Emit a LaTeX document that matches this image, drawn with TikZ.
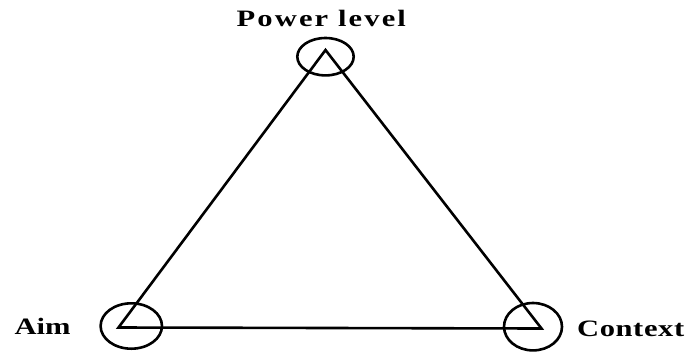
\documentclass[tikz,border=0pt]{standalone}
\usepackage{fontspec}
\setmainfont{Liberation Serif}
\newfontfamily\labfont{Liberation Serif Bold}
\usetikzlibrary{shapes.geometric}
\begin{document}
\begin{tikzpicture}[x=1pt,y=-1pt,
  edge/.style={line width=2.6pt,line join=miter},
  ring/.style={draw,line width=2.6pt,ellipse,inner sep=0pt},
  lab/.style={anchor=base,inner sep=0pt,xscale=1.3,font=\labfont\fontsize{23.5}{26}\selectfont}]
\useasboundingbox (0,0) rectangle (687,351);
\coordinate (P) at (325.5,50);
\coordinate (A) at (118.5,327.5);
\coordinate (C) at (541.5,328.5);
\draw[edge] (P) -- (A) -- (C) -- cycle;
\node[ring,minimum width=56.4pt,minimum height=37.4pt] (rp) at (325.5,56.7) {};
\node[ring,minimum width=61.4pt,minimum height=45.4pt] (ra) at (131.3,326) {};
\node[ring,minimum width=58pt,minimum height=47.4pt] (rc) at (533,326.7) {};
\node[lab] (tp) at (321.3,26.3) {\addfontfeatures{LetterSpace=7}Power level};
\node[lab] (ta) at (42.5,334.5) {Aim};
\node[lab] (tc) at (630.7,336.5) {\addfontfeatures{LetterSpace=2}Context};
\end{tikzpicture}
\end{document}
